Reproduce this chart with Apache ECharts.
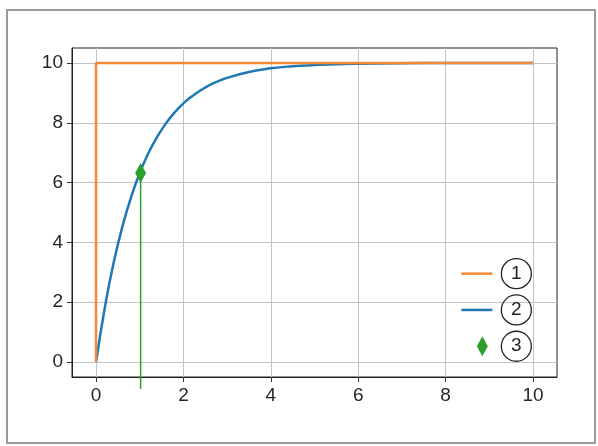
<!DOCTYPE html>
<html>
<head>
<meta charset="utf-8">
<script src="https://cdn.jsdelivr.net/npm/echarts@6/dist/echarts.min.js"></script>
<style>
  html, body { margin: 0; padding: 0; background: #fff; }
  #chart { width: 598px; height: 446px; }
</style>
</head>
<body>
<div id="chart"></div>
<script>
// values
var stepX = [0, 0, 10];
var stepY = [0, 10, 10];

var respX = [0, 0.2, 0.4, 0.6, 0.8, 1.0, 1.2, 1.4, 1.6, 1.8, 2.0, 2.2, 2.4, 2.6, 2.8, 3.0, 3.5, 4.0, 4.5, 5, 5.5, 6, 7, 8, 9, 10];
var respY = [0, 1.81, 3.3, 4.51, 5.5, 6.32, 6.99, 7.53, 7.98, 8.35, 8.65, 8.89, 9.09, 9.26, 9.39, 9.5, 9.7, 9.82, 9.89, 9.93, 9.96, 9.975, 9.99, 9.997, 9.999, 10];

var markX = [1.02];
var markY = [6.32];
var stemY = [-0.9, 6.32];

var xTicks = [0, 2, 4, 6, 8, 10];
var yTicks = [0, 2, 4, 6, 8, 10];

function pairs(xs, ys) {
    return xs.map(function (x, i) { return [x, ys[i]]; });
}

var dom = document.getElementById('chart');
var myChart = echarts.init(dom);

var font = "'Liberation Sans', Arial, sans-serif";
var lineIcon = 'path://M0,0L31,0L31,2.5L0,2.5Z';

var option = {
    animation: false,
    textStyle: { fontFamily: font },
    graphic: [{
        type: 'rect',
        shape: { x: 7, y: 10, width: 588, height: 433 },
        style: { fill: 'none', stroke: '#9a9a9a', lineWidth: 2 },
        silent: true
    }],
    grid: {
        left: 72, right: 41, top: 48, bottom: 69,
        show: true,
        borderColor: '#222',
        borderWidth: 1
    },
    xAxis: {
        type: 'value',
        min: -0.55,
        max: 10.55,
        axisLine: { onZero: false, lineStyle: { color: '#222' } },
        axisTick: { show: true, length: 5, customValues: xTicks, lineStyle: { color: '#333' } },
        axisLabel: { customValues: xTicks, fontSize: 19, color: '#262626', margin: 9, fontFamily: font },
        splitLine: { show: true, lineStyle: { color: '#c4c4c4', width: 1 } }
    },
    yAxis: {
        type: 'value',
        min: -0.5,
        max: 10.5,
        axisLine: { show: true, onZero: false, lineStyle: { color: '#222' } },
        axisTick: { show: true, length: 5, customValues: yTicks, lineStyle: { color: '#333' } },
        axisLabel: { customValues: yTicks, fontSize: 19, color: '#262626', margin: 9, fontFamily: font },
        splitLine: { show: true, lineStyle: { color: '#c4c4c4', width: 1 } }
    },
    legend: {
        orient: 'vertical',
        right: 61,
        top: 253,
        itemWidth: 31,
        itemHeight: 20,
        itemGap: 5,
        data: [
            { name: '1', icon: lineIcon },
            { name: '2', icon: lineIcon },
            { name: '3', icon: 'path://M0,10M16.5,0L22,10L16.5,20L11,10Z' }
        ],
        formatter: function (name) { return '{s|}{c|' + name + '}'; },
        textStyle: {
            rich: {
                s: { width: 4 },
                c: {
                    width: 30, height: 30, lineHeight: 30,
                    borderRadius: 16, borderColor: '#222', borderWidth: 1.3,
                    align: 'center', fontSize: 19, color: '#222', fontFamily: font
                }
            }
        }
    },
    series: [
        {
            name: '1',
            type: 'line',
            data: pairs(stepX, stepY),
            symbol: 'none',
            lineStyle: { color: '#f28a3a', width: 2.5 },
            itemStyle: { color: '#f28a3a' },
            z: 3
        },
        {
            name: '2',
            type: 'line',
            data: pairs(respX, respY),
            symbol: 'none',
            smooth: 0.5,
            lineStyle: { color: '#1f77b4', width: 2.5 },
            itemStyle: { color: '#1f77b4' },
            z: 2
        },
        {
            name: 'stem',
            type: 'line',
            data: pairs([markX[0], markX[0]], stemY),
            symbol: 'none',
            clip: false,
            lineStyle: { color: '#2ca02c', width: 1.5 },
            itemStyle: { color: '#2ca02c' },
            z: 4
        },
        {
            name: '3',
            type: 'scatter',
            data: pairs(markX, markY),
            symbol: 'diamond',
            symbolSize: [11, 20],
            itemStyle: { color: '#2ca02c', opacity: 1 },
            z: 5
        }
    ]
};

if (option && typeof option === 'object') {
    myChart.setOption(option);
}

window.addEventListener('resize', myChart.resize);
</script>
</body>
</html>
